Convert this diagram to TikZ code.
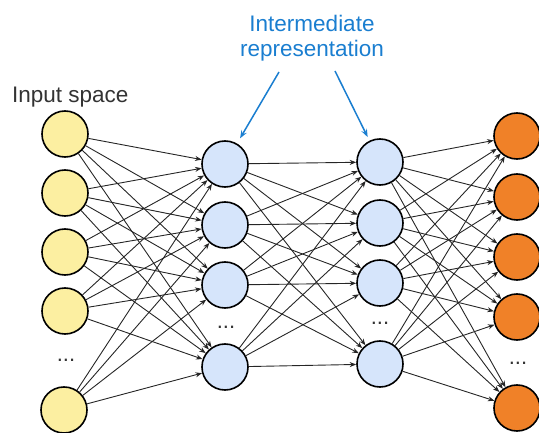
\documentclass[tikz,border=0pt]{standalone}
\usepackage{fontspec}
\setmainfont{Liberation Sans}
\usepackage{xcolor}
\usetikzlibrary{arrows.meta}
\definecolor{inyellow}{HTML}{FCEFA1}
\definecolor{hidblue}{HTML}{D6E5FB}
\definecolor{outorange}{HTML}{F08128}
\definecolor{labblue}{HTML}{1A7ED0}
\definecolor{labgray}{HTML}{333333}
\tikzset{
  neuron/.style={circle,draw=black,line width=1.6pt,minimum size=46pt,inner sep=0pt},
  edge/.style={black!85,line width=0.9pt,-{Stealth[length=6.5pt,width=5pt]}},
  pointer/.style={labblue,line width=1.5pt,-{Stealth[length=8pt,width=6pt,inset=3pt]}},
  dots/.style={anchor=base,inner sep=0pt,font=\fontsize{22}{24}\selectfont,text=labgray}
}
\begin{document}
\begin{tikzpicture}[x=1pt,y=-1pt]
  \useasboundingbox (0,0) rectangle (539,433);
  % input layer
  \foreach \n/\y in {1/134,2/193,3/252,4/311}
    \node[neuron,fill=inyellow] (in\n) at (65,\y) {};
  \node[neuron,fill=inyellow] (in5) at (64,410) {};
  \node[dots] (indots) at (66,362) {...};
  % first hidden layer
  \foreach \n/\y in {1/164,2/225,3/285,4/367}
    \node[neuron,fill=hidblue] (ha\n) at (225,\y) {};
  \node[dots] (hadots) at (226,328) {...};
  % second hidden layer
  \foreach \n/\y in {1/162,2/223,3/283,4/364}
    \node[neuron,fill=hidblue] (hb\n) at (380,\y) {};
  \node[dots] (hbdots) at (380,325) {...};
  % output layer
  \foreach \n/\y in {1/136,2/197,3/257,4/317,5/408}
    \node[neuron,fill=outorange] (out\n) at (517,\y) {};
  \node[dots] (outdots) at (518,364) {...};
  % connections
  \foreach \i in {1,...,5}{\foreach \j in {1,...,4}{\draw[edge] (in\i) -- (ha\j);}}
  \foreach \i in {1,...,4}{\foreach \j in {1,...,4}{\draw[edge] (ha\i) -- (hb\j);}}
  \foreach \i in {1,...,4}{\foreach \j in {1,...,5}{\draw[edge] (hb\i) -- (out\j);}}
  % labels
  \node[anchor=base west,inner sep=0pt,text=labgray,font=\fontsize{22.5}{25}\selectfont]
    (inlabel) at (12,103) {Input space};
  \node[anchor=base,inner sep=0pt,align=center,text=labblue,font=\fontsize{22.5}{25}\selectfont]
    (midlabel) at (312,57) {Intermediate\\representation};
  \coordinate (ptA) at (279,72);
  \coordinate (ptB) at (335,71);
  \draw[pointer,shorten >=6pt] (ptA) -- (ha1);
  \draw[pointer,shorten >=4pt] (ptB) -- (hb1);
\end{tikzpicture}
\end{document}
